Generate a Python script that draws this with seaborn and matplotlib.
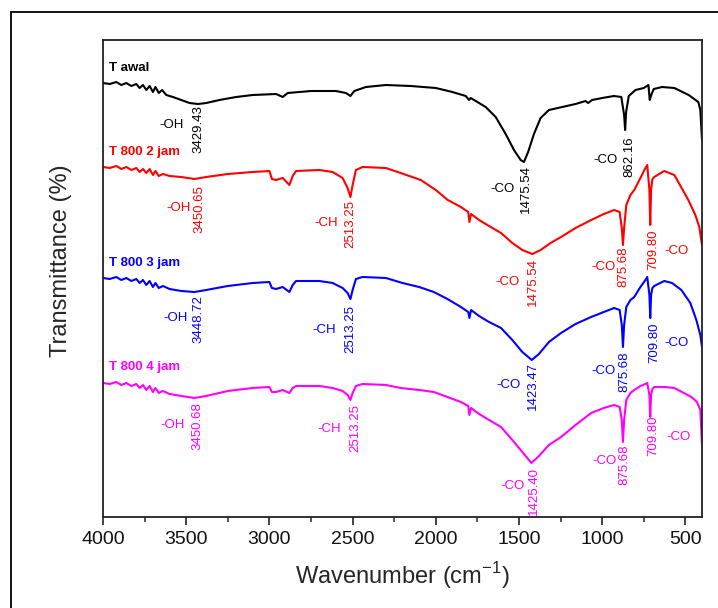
import numpy as np
import pandas as pd
import seaborn as sns
import matplotlib.pyplot as plt
from matplotlib.patches import Rectangle
from matplotlib.ticker import MultipleLocator

# wavenumber (cm-1) and offset transmittance (a.u.)
wn_awal = [4000, 3960, 3920, 3890, 3860, 3830, 3800, 3780, 3760, 3740, 3720, 3700, 3685, 3665, 3645,
           3620, 3580, 3530, 3480, 3429, 3380, 3300, 3200, 3100, 2960, 2920, 2890, 2750, 2600, 2540,
           2513, 2490, 2420, 2300, 2150, 2000, 1900, 1820, 1800, 1790, 1760, 1700, 1640, 1580, 1530,
           1490, 1470, 1445, 1410, 1370, 1320, 1240, 1160, 1100, 1085, 1060, 1000, 930, 885, 868,
           862, 856, 840, 800, 750, 722, 714, 705, 690, 640, 566, 480, 422, 410, 400]
t_awal = [434, 433, 435, 432, 434, 431, 433, 429, 432, 427, 431, 425, 430, 424, 427,
          422, 420, 417, 414, 413, 414, 417, 420, 422, 423, 420, 424, 426, 426, 424,
          421, 426, 430, 432, 431, 429, 425, 421, 417, 419, 416, 410, 400, 383, 367,
          357, 355, 365, 383, 399, 407, 410, 413, 416, 414, 417, 419, 421, 420, 402,
          387, 405, 421, 427, 429, 432, 417, 422, 428, 430, 429, 422, 415, 407, 377]

wn_2jam = [4000, 3960, 3920, 3890, 3860, 3830, 3800, 3780, 3760, 3740, 3720, 3700, 3685, 3665, 3640,
           3600, 3530, 3450, 3380, 3250, 3100, 3000, 2985, 2960, 2920, 2880, 2860, 2840, 2700, 2620,
           2560, 2530, 2513, 2500, 2480, 2440, 2300, 2211, 2090, 2000, 1928, 1849, 1805, 1798, 1788,
           1740, 1680, 1608, 1540, 1480, 1420, 1370, 1310, 1247, 1160, 1066, 990, 928, 895, 882,
           875, 868, 855, 830, 807, 770, 740, 729, 716, 711, 706, 698, 687, 627, 566,
           482, 440, 416, 400]
t_2jam = [350, 349, 351, 348, 350, 347, 349, 345, 348, 344, 348, 342, 346, 341, 343,
          341, 340, 338, 340, 343, 345, 346, 338, 337, 339, 332, 341, 346, 347, 345,
          339, 329, 320, 332, 347, 350, 349, 344, 337, 327, 317, 310, 305, 295, 303,
          297, 291, 284, 274, 267, 263, 267, 274, 280, 289, 297, 303, 307, 305, 289,
          272, 289, 312, 322, 327, 339, 349, 352, 327, 292, 327, 338, 340, 346, 342,
          317, 302, 290, 272]

wn_3jam = [4000, 3960, 3920, 3890, 3860, 3830, 3800, 3780, 3760, 3740, 3720, 3700, 3685, 3665, 3640,
           3600, 3530, 3450, 3380, 3250, 3100, 3000, 2985, 2960, 2920, 2880, 2860, 2840, 2700, 2620,
           2560, 2530, 2513, 2500, 2480, 2440, 2300, 2200, 2100, 2012, 1930, 1849, 1805, 1798, 1788,
           1740, 1680, 1608, 1540, 1480, 1423, 1380, 1320, 1247, 1160, 1066, 990, 928, 895, 882,
           875, 868, 855, 830, 807, 770, 740, 729, 716, 711, 706, 698, 687, 627, 580,
           524, 470, 434, 410, 400]
t_3jam = [239, 238, 240, 237, 239, 236, 238, 234, 237, 232, 236, 230, 234, 229, 231,
          228, 226, 225, 227, 231, 234, 235, 229, 228, 230, 225, 232, 236, 236, 234,
          229, 224, 218, 227, 238, 240, 239, 234, 230, 225, 218, 210, 205, 199, 207,
          201, 195, 189, 177, 165, 157, 163, 175, 184, 193, 200, 205, 209, 207, 192,
          170, 192, 210, 217, 220, 230, 237, 240, 222, 199, 222, 229, 231, 236, 234,
          227, 214, 197, 182, 170]

wn_4jam = [4000, 3960, 3920, 3890, 3860, 3830, 3800, 3780, 3760, 3740, 3720, 3700, 3685, 3665, 3640,
           3600, 3530, 3450, 3380, 3250, 3100, 3000, 2985, 2960, 2920, 2880, 2860, 2840, 2700, 2620,
           2560, 2530, 2513, 2500, 2480, 2440, 2300, 2211, 2100, 2012, 1930, 1849, 1805, 1798, 1788,
           1740, 1680, 1608, 1540, 1480, 1425, 1380, 1320, 1247, 1160, 1066, 990, 928, 895, 882,
           875, 868, 855, 830, 807, 770, 740, 729, 716, 711, 706, 698, 687, 627, 566,
           464, 430, 410, 400]
t_4jam = [134, 133, 135, 132, 134, 131, 133, 129, 132, 127, 131, 125, 129, 124, 126,
          123, 121, 119, 121, 126, 129, 130, 125, 125, 127, 124, 129, 131, 131, 129,
          126, 122, 117, 124, 131, 133, 132, 129, 127, 125, 120, 115, 111, 102, 109,
          103, 97, 90, 77, 65, 54, 61, 72, 80, 92, 104, 109, 112, 110, 97,
          75, 97, 117, 124, 127, 131, 133, 134, 122, 100, 122, 128, 130, 130, 129,
          120, 115, 107, 72]

samples = ["T awal", "T 800 2 jam", "T 800 3 jam", "T 800 4 jam"]
colors = ["#000000", "#ff0000", "#0000ff", "#ff00ff"]

# sample label position (wavenumber, level)
label_pos = [(3964, 449), (3964, 365), (3964, 254), (3964, 150)]

# peak annotations: (sample index, text, wavenumber, level, vertical?)
annotations = [
    (0, "-OH", 3590, 392, False), (0, "3429.43", 3428, 412, True),
    (0, "-CO", 1602, 328, False), (0, "1475.54", 1458, 352, True),
    (0, "-CO", 982, 357, False), (0, "862.16", 838, 381, True),
    (1, "-OH", 3548, 309, False), (1, "3450.65", 3422, 332, True),
    (1, "-CH", 2657, 294, False), (1, "2513.25", 2512, 317, True),
    (1, "-CO", 1566, 235, False), (1, "1475.54", 1416, 259, True),
    (1, "-CO", 994, 250, False), (1, "875.68", 873, 270, True),
    (1, "709.80", 693, 287, True), (1, "-CO", 554, 266, False),
    (2, "-OH", 3566, 199, False), (2, "3448.72", 3428, 222, True),
    (2, "-CH", 2669, 187, False), (2, "2513.25", 2512, 212, True),
    (2, "-CO", 1560, 132, False), (2, "1423.47", 1416, 155, True),
    (2, "-CO", 994, 146, False), (2, "875.68", 867, 165, True),
    (2, "709.80", 687, 194, True), (2, "-CO", 554, 174, False),
    (3, "-OH", 3584, 92, False), (3, "3450.68", 3434, 115, True),
    (3, "-CH", 2639, 88, False), (3, "2513.25", 2482, 113, True),
    (3, "-CO", 1536, 31, False), (3, "1425.40", 1410, 50, True),
    (3, "-CO", 988, 56, False), (3, "875.68", 867, 72, True),
    (3, "709.80", 693, 101, True), (3, "-CO", 542, 80, False),
]

sns.set_style("ticks")
plt.rcParams['font.family'] = ['Liberation Sans', 'DejaVu Sans']
plt.rcParams['mathtext.fontset'] = 'custom'
plt.rcParams['mathtext.rm'] = 'Liberation Sans'

df = pd.concat([
    pd.DataFrame({"wn": w, "T": t, "sample": s})
    for w, t, s in zip([wn_awal, wn_2jam, wn_3jam, wn_4jam],
                       [t_awal, t_2jam, t_3jam, t_4jam], samples)
])

fig = plt.figure(figsize=(7.18, 6.08), dpi=100)
ax = fig.add_axes([0.1435, 0.1497, 0.8342, 0.7845])

sns.lineplot(data=df, x="wn", y="T", hue="sample", palette=dict(zip(samples, colors)),
             estimator=None, sort=False, linewidth=1.5, legend=False, ax=ax)

ax.set_xlim(4000, 400)
ax.set_ylim(0, 477)
ax.set_yticks([])
ax.xaxis.set_major_locator(MultipleLocator(500))
ax.xaxis.set_minor_locator(MultipleLocator(250))
ax.tick_params(axis="x", which="major", direction="out", length=6, width=1.1,
               labelsize=14, pad=4, colors="#111111")
ax.tick_params(axis="x", which="minor", direction="out", length=3.5, width=1.1)
for sp in ax.spines.values():
    sp.set_linewidth(1.3)
    sp.set_color("#222222")

ax.set_xlabel("Wavenumber (cm$^{\\mathregular{-1}}$)", fontsize=17, labelpad=9)
ax.set_ylabel("Transmittance (%)", fontsize=17)
ax.yaxis.set_label_coords(-0.052, 0.537)

for (x, y), s, c in zip(label_pos, samples, colors):
    ax.text(x, y, s, color=c, fontsize=9.5, fontweight="bold", ha="left", va="center")

for i, txt, x, y, vert in annotations:
    if vert:
        ax.text(x, y, txt, color=colors[i], fontsize=9.5, rotation=90, ha="center", va="top")
    else:
        ax.text(x, y, txt, color=colors[i], fontsize=9.5, ha="center", va="center")

# outer frame around the figure
fig.add_artist(Rectangle((11 / 718, -0.1), 1.2, 1.1 - 12 / 608, transform=fig.transFigure,
                         fill=False, lw=1.3, edgecolor="black"))

fig.savefig("out.png", dpi=100)
